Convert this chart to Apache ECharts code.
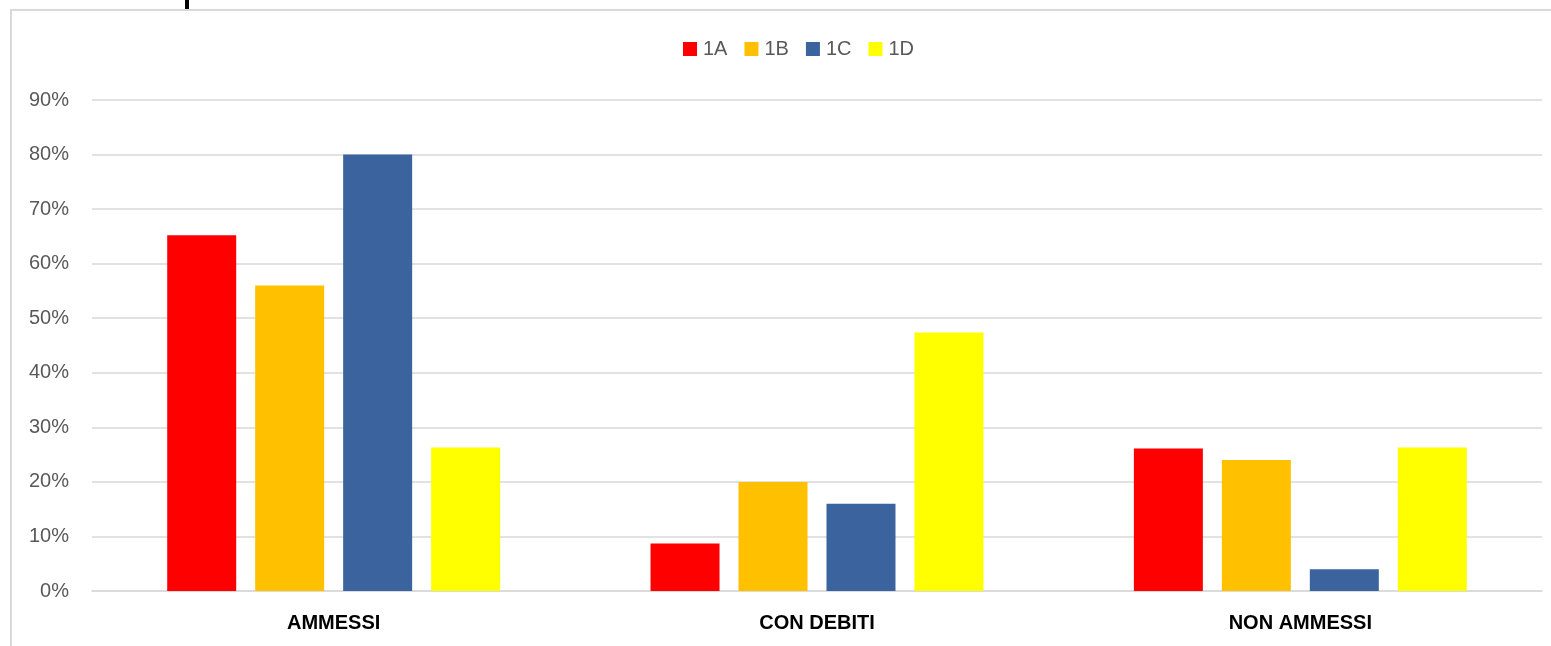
<!DOCTYPE html>
<html>
<head>
<meta charset="utf-8">
<script src="https://cdn.jsdelivr.net/npm/echarts@6/dist/echarts.min.js"></script>
<style>
html,body{margin:0;padding:0;background:#fff;}
#chart{width:1551px;height:646px;}
</style>
</head>
<body>
<div id="chart"></div>
<script>
const categories = ['AMMESSI', 'CON DEBITI', 'NON AMMESSI'];
const seriesNames = ['1A', '1B', '1C', '1D'];
const values1A = [65.2, 8.7, 26.1];
const values1B = [56, 20, 24];
const values1C = [80, 16, 4];
const values1D = [26.3, 47.4, 26.3];
const yTicks = [0, 10, 20, 30, 40, 50, 60, 70, 80, 90];
const colors = ['#FF0000', '#FFC000', '#3B649E', '#FFFF00'];

const allValues = [values1A, values1B, values1C, values1D];
const font = 'Liberation Sans, Arial, sans-serif';

const chart = echarts.init(document.getElementById('chart'), null, {renderer: 'canvas'});
chart.setOption({
  animation: false,
  backgroundColor: '#fff',
  color: colors,
  legend: {
    data: seriesNames,
    left: 683,
    top: 39,
    padding: 0,
    icon: 'rect',
    itemWidth: 14,
    itemHeight: 14,
    itemGap: 17,
    textStyle: {fontSize: 20, color: '#595959', fontFamily: font, padding: [0, 0, 0, 1]}
  },
  grid: {left: 92, right: 9, top: 100, bottom: 55, containLabel: false},
  xAxis: {
    type: 'category',
    data: categories,
    axisLine: {show: true, lineStyle: {color: '#d9d9d9', width: 1.5}},
    axisTick: {show: false},
    axisLabel: {fontSize: 20, fontWeight: 'bold', color: '#000', fontFamily: font, margin: 22}
  },
  yAxis: {
    type: 'value',
    min: yTicks[0],
    max: yTicks[yTicks.length - 1],
    interval: 10,
    axisLine: {show: false},
    axisTick: {show: false},
    splitLine: {lineStyle: {color: '#d9d9d9', width: 1.5}},
    axisLabel: {formatter: '{value}%', fontSize: 20, color: '#595959', fontFamily: font, margin: 23}
  },
  series: seriesNames.map((n, i) => ({
    name: n,
    type: 'bar',
    data: allValues[i],
    barWidth: 69,
    barGap: '27.5%',
    itemStyle: {color: colors[i]}
  })),
  graphic: [
    {type: 'rect', shape: {x: 11, y: 10, width: 3000, height: 3000}, style: {fill: 'none', stroke: '#d9d9d9', lineWidth: 2}, silent: true, z: -1},
    {type: 'rect', shape: {x: 185, y: 0, width: 4, height: 9}, style: {fill: '#000'}, silent: true}
  ]
});
</script>
</body>
</html>
